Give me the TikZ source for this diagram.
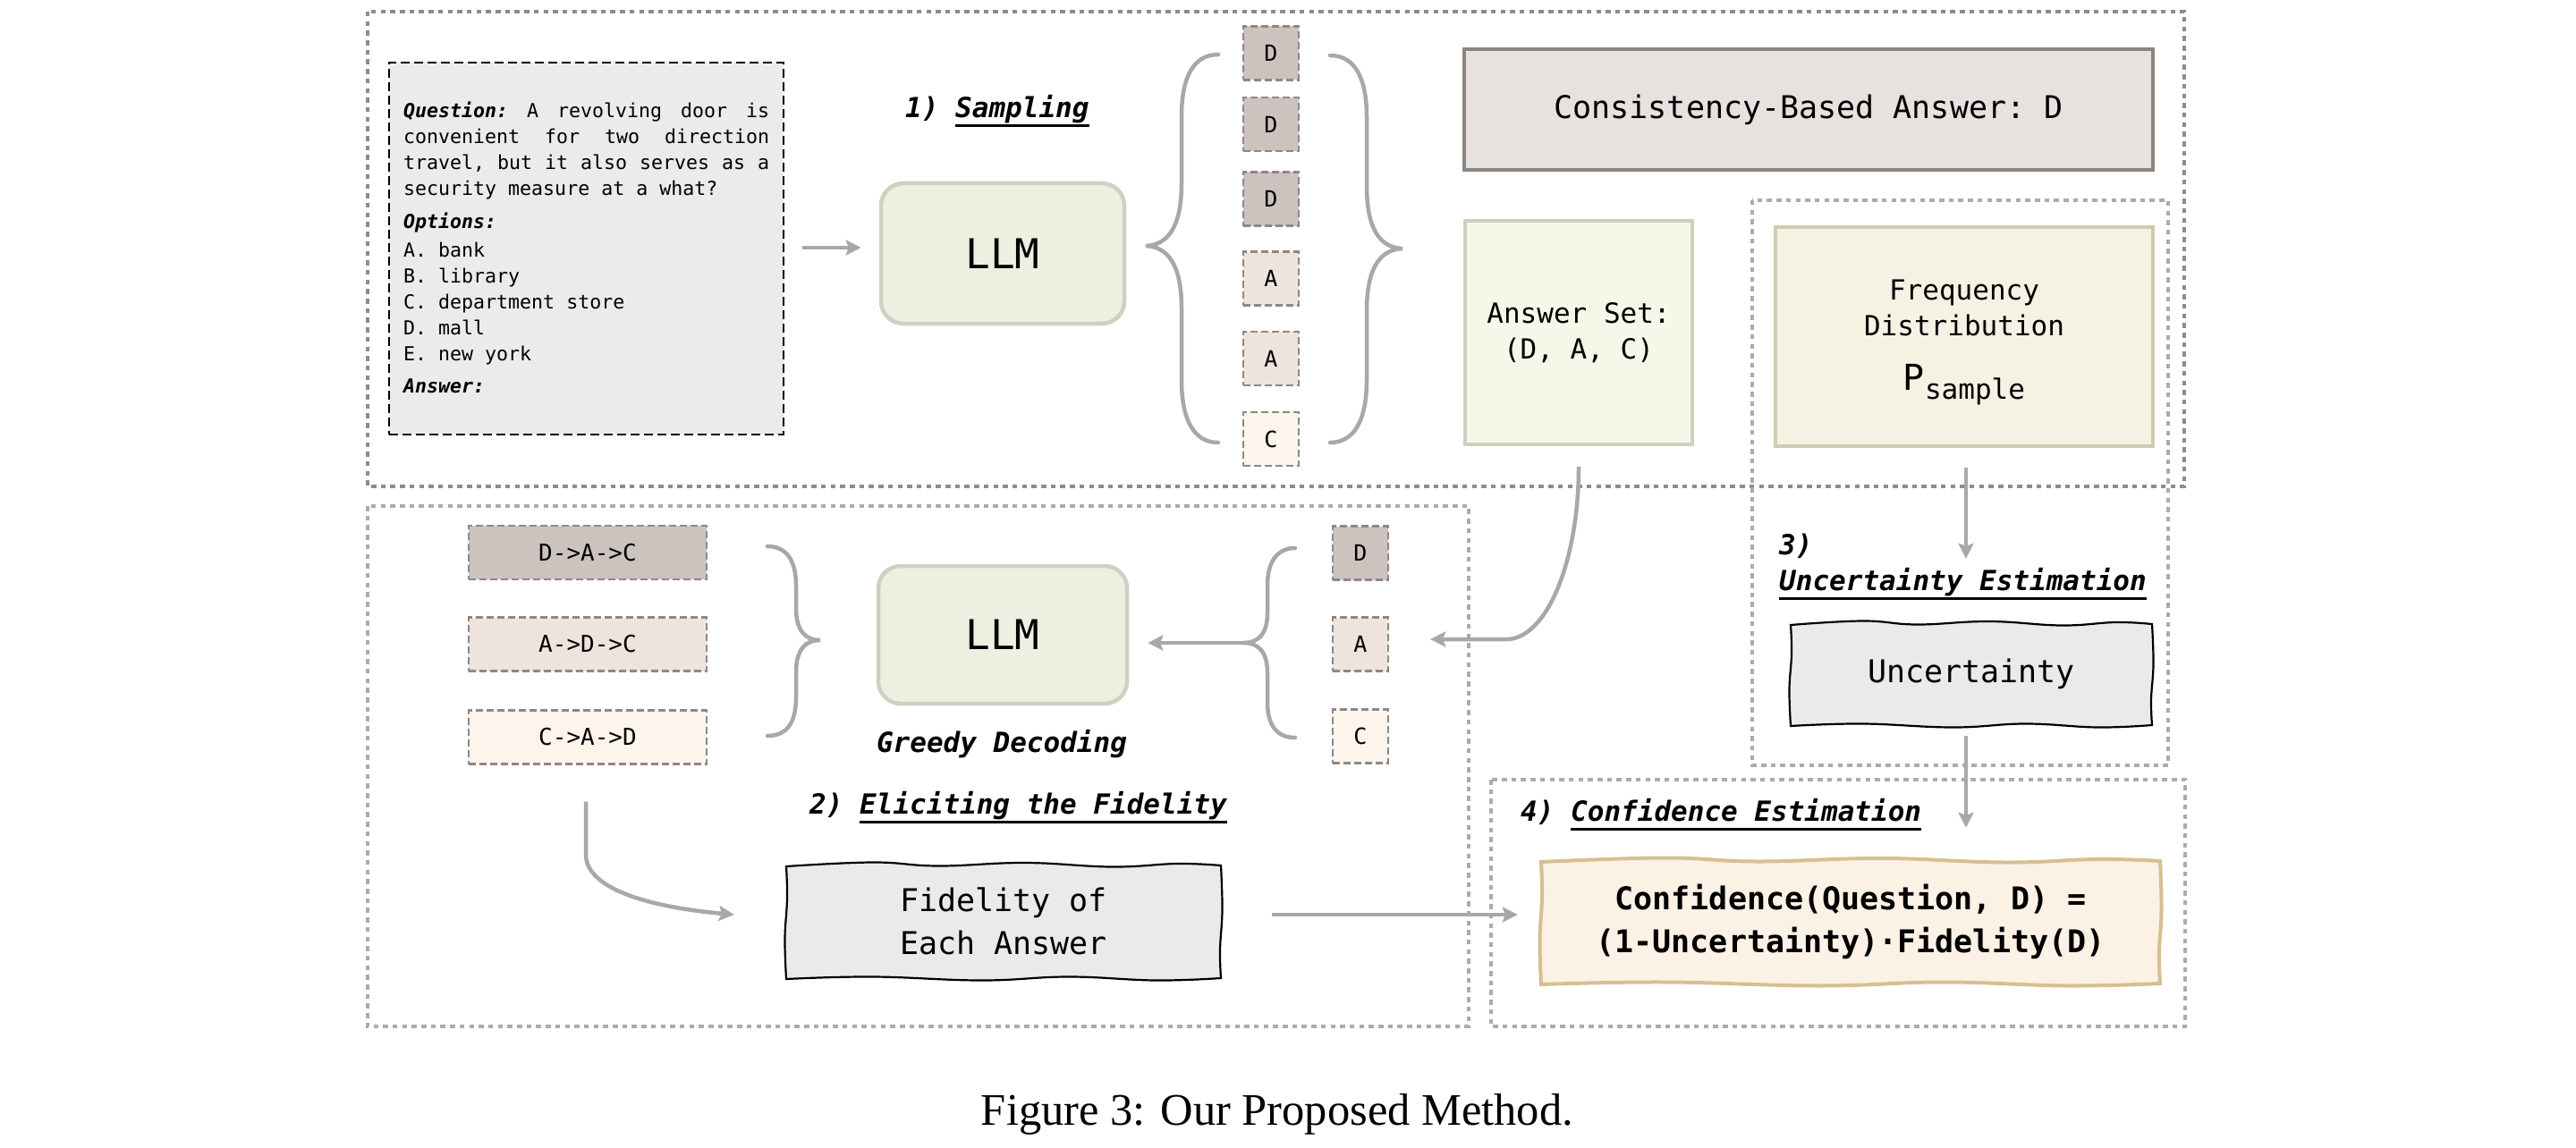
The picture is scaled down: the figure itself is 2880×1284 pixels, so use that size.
\documentclass[tikz,border=0pt]{standalone}
\usepackage{fontspec}
\setmainfont{Liberation Serif}
\setmonofont{DejaVu Sans Mono}
\usetikzlibrary{arrows.meta,calc}
\definecolor{dotA}{HTML}{8C8C8C}
\definecolor{dotB}{HTML}{ABABAB}
\definecolor{arrg}{HTML}{A8A8A8}
\definecolor{sampD}{HTML}{CCC3BF}
\definecolor{sampA}{HTML}{EEE4DD}
\definecolor{sampC}{HTML}{FDF4EC}
\definecolor{sampbd}{HTML}{8E8884}
\definecolor{qfill}{HTML}{EBEBEB}
\definecolor{llmfill}{HTML}{EEEEE1}
\definecolor{llmbd}{HTML}{D0D0C2}
\definecolor{consfill}{HTML}{E7E2DF}
\definecolor{consbd}{HTML}{8A8580}
\definecolor{ansfill}{HTML}{F7F7E9}
\definecolor{ansbd}{HTML}{CFCFC0}
\definecolor{freqfill}{HTML}{F5F1E3}
\definecolor{freqbd}{HTML}{D2CAB0}
\definecolor{conffill}{HTML}{FBF1E4}
\definecolor{confbd}{HTML}{D6BF92}
\definecolor{sketchfill}{HTML}{EAEAEA}
\newcommand\fs[2]{\fontsize{#1}{#2}\selectfont}
\newcommand\ulx[1]{\setbox0\hbox{#1}\rlap{\rule[-10.5pt]{\wd0}{2.6pt}}\box0}
\newcommand\bi[1]{{\bfseries\itshape #1}}
\newcommand\wavy[5][]{%
 \filldraw[#1] plot[smooth,tension=0.7] coordinates {(#2,{#3+2}) ({#2+0.2*(#4-#2)},{#3-2.5}) ({#2+0.35*(#4-#2)},{#3+1.5}) ({#2+0.55*(#4-#2)},{#3-2}) ({#2+0.75*(#4-#2)},{#3+2.5}) ({#2+0.9*(#4-#2)},{#3-1}) (#4,{#3+1})}
 -- plot[smooth,tension=0.7] coordinates {(#4,{#3+1}) ({#4+1.5},{#3+0.4*(#5-#3)}) ({#4-1},{#3+0.75*(#5-#3)}) (#4,#5)}
 -- plot[smooth,tension=0.7] coordinates {(#4,#5) ({#4-0.15*(#4-#2)},{#5+2.5}) ({#4-0.35*(#4-#2)},{#5-1.5}) ({#4-0.55*(#4-#2)},{#5+2.5}) ({#4-0.8*(#4-#2)},{#5-1.5}) (#2,{#5+1})}
 -- plot[smooth,tension=0.7] coordinates {(#2,{#5+1}) ({#2-1.5},{#5-0.35*(#5-#3)}) ({#2+1},{#5-0.7*(#5-#3)}) (#2,{#3+2})}
 -- cycle;}
\tikzset{
 dotbox/.style={line width=4.5pt, dash pattern=on 5.5pt off 5.2pt},
 arr/.style={draw=arrg, line width=4.5pt, -{Stealth[length=17pt,width=17pt,inset=3pt]}},
 bracestyle/.style={draw=arrg, line width=4.5pt, line cap=round},
 samp/.style={draw=sampbd, line width=2.2pt, dash pattern=on 8pt off 4pt, minimum width=62pt, minimum height=60pt, inner sep=0pt, font=\ttfamily\fs{25}{30}},
 permbox/.style={samp, minimum width=266pt, font=\ttfamily\fs{26}{30}},
 llm/.style={draw=llmbd, fill=llmfill, line width=4.5pt, rounded corners=25pt, inner sep=0pt, font=\ttfamily\fs{46}{50}},
 ttl/.style={inner sep=0pt, font=\ttfamily\bfseries\itshape\fs{31}{36}},
 plainbox/.style={line width=4pt, inner sep=0pt, align=center},
 sketch/.style={inner sep=0pt, align=center, font=\ttfamily\fs{35}{48}},
}
\begin{document}
\begin{tikzpicture}[x=1pt,y=-1pt]
\useasboundingbox (0,0) rectangle (2880,1284);
% group frames
\draw[dotbox, draw=dotA] (411,13) rectangle (2442,544);
\draw[dotbox, draw=dotB] (411,566) rectangle (1642,1148);
\draw[dotbox, draw=dotB] (1959,224) rectangle (2424,856);
\draw[dotbox, draw=dotB] (1667,872) rectangle (2443,1148);

% question
\node[draw=black, fill=qfill, line width=2.4pt, dash pattern=on 10pt off 5pt, minimum width=441pt, minimum height=416pt, inner sep=0pt] (q) at (655.5,278) {};
\node[anchor=north west, inner sep=0pt, font=\ttfamily\fs{21.6}{29}] (qtxt) at (451,113.6) {\vbox{\hsize=409pt
\hbox to 409pt{\bi{Question:} \hfill A \hfill revolving \hfill door \hfill is}
\hbox to 409pt{convenient \hfill for \hfill two \hfill direction}
\hbox to 409pt{travel, \hfill but \hfill it \hfill also \hfill serves \hfill as \hfill a}
\hbox{security measure at a what?}
\vskip 8pt
\hbox{\bi{Options:}}
\vskip 3pt
\hbox{A. bank}
\hbox{B. library}
\hbox{C. department store}
\hbox{D. mall}
\hbox{E. new york}
\vskip 7pt
\hbox{\bi{Answer:}}}};

% sampling
\node[llm, minimum width=272pt, minimum height=157pt] (llm1) at (1121,283.5) {LLM};
\node[ttl, anchor=base west] (l1) at (1012,131.4) {1) \ulx{Sampling}};
\node[samp, fill=sampD] (s1) at (1421,59.5) {D};
\node[samp, fill=sampD] (s2) at (1421,139) {D};
\node[samp, fill=sampD] (s3) at (1421,222.5) {D};
\node[samp, fill=sampA] (s4) at (1421,311.5) {A};
\node[samp, fill=sampA] (s5) at (1421,401) {A};
\node[samp, fill=sampC] (s6) at (1421,491) {C};
\draw[bracestyle] (1362,61) .. controls (1335,61) and (1321,85) .. (1321,130) -- (1321,205) .. controls (1321,255) and (1305,274) .. (1281,275) .. controls (1305,276) and (1321,295) .. (1321,345) -- (1321,425) .. controls (1321,470) and (1335,495) .. (1362,495);
\draw[bracestyle] (1487,62) .. controls (1514,62) and (1528,86) .. (1528,131) -- (1528,208) .. controls (1528,258) and (1544,277) .. (1568,278) .. controls (1544,279) and (1528,298) .. (1528,348) -- (1528,425) .. controls (1528,470) and (1514,495) .. (1487,495);

\node[plainbox, draw=consbd, fill=consfill, minimum width=770pt, minimum height=135pt, font=\ttfamily\fs{35}{40}] (cons) at (2022,122.5) {Consistency-Based Answer: D};
\node[plainbox, draw=ansbd, fill=ansfill, minimum width=254pt, minimum height=250pt, font=\ttfamily\fs{31}{40}] (ans) at (1765,372) {Answer Set:\\(D, A, C)};
\node[plainbox, draw=freqbd, fill=freqfill, minimum width=422pt, minimum height=245pt, font=\ttfamily\fs{31}{40}] (freq) at (2196,376.5) {\rule{0pt}{35.6pt}Frequency\\Distribution\\[20.6pt]{\fs{40}{40}P}\raisebox{-10pt}{sample}};

% eliciting
\node[permbox, fill=sampD] (p1) at (657,618) {D->A->C};
\node[permbox, fill=sampA] (p2) at (657,720.5) {A->D->C};
\node[permbox, fill=sampC] (p3) at (657,824.5) {C->A->D};
\draw[bracestyle] (858,611) .. controls (880,611) and (890,628) .. (890,655) -- (890,680) .. controls (890,705) and (900,716) .. (917,716) .. controls (900,716) and (890,727) .. (890,752) -- (890,780) .. controls (890,808) and (880,823) .. (858,823);
\node[llm, minimum width=278pt, minimum height=154pt] (llm2) at (1121,710) {LLM};
\node[ttl, anchor=base] (lgd) at (1120,841) {Greedy Decoding};
\coordinate (btip) at (1390,719);
\draw[bracestyle] (1448,613) .. controls (1428,613) and (1417,628) .. (1417,655) -- (1417,685) .. controls (1417,708) and (1408,719) .. (btip) .. controls (1408,719) and (1417,730) .. (1417,753) -- (1417,785) .. controls (1417,812) and (1428,825) .. (1448,825);
\node[samp, fill=sampD] (b1) at (1521,618.5) {D};
\node[samp, fill=sampA] (b2) at (1521,720.5) {A};
\node[samp, fill=sampC] (b3) at (1521,823.5) {C};
\node[ttl, anchor=base west] (l2) at (905,910.5) {2) \ulx{Eliciting the Fidelity}};
\wavy[fill=sketchfill, draw=black, line width=2.2pt]{879}{967}{1365}{1094}
\node[sketch, minimum width=486pt, minimum height=127pt] (fid) at (1122,1030.5) {Fidelity of\\Each Answer};

% uncertainty
\node[ttl, anchor=base west] (l3) at (1989,620.4) {3)};
\node[ttl, anchor=base west] (l3b) at (1989,660.4) {\ulx{Uncertainty Estimation}};
\wavy[fill=sketchfill, draw=black, line width=2.2pt]{2002}{697}{2406}{811}
\node[sketch, minimum width=404pt, minimum height=114pt] (unc) at (2204,754) {Uncertainty};

% confidence
\node[ttl, anchor=base west] (l4) at (1700,918.4) {4) \ulx{Confidence Estimation}};
\wavy[fill=conffill, draw=confbd, line width=4pt]{1723}{962}{2415}{1100}
\node[sketch, minimum width=692pt, minimum height=138pt, font=\ttfamily\bfseries\fs{35}{48}] (conf) at (2069,1031) {Confidence(Question, D) =\\(1-Uncertainty)·Fidelity(D)};

% connectors
\draw[arr] ($(q.east)+(20,-1)$) -- ($(llm1.west|-q.east)+(-20,-1)$);
\draw[arr] ($(ans.south)+(0,23)$) .. controls +(0,106) and +(45,0) .. ($(b2.east)+(131,-5.5)$) -- ($(b2.east)+(46,-5.5)$);
\draw[arr] (btip) -- ($(llm2.east|-btip)+(21,0)$);
\draw[arr] ($(p3.south)+(-2,41)$) -- ++(0,59) .. controls +(0,40) and +(-90,-8) .. ($(fid.west)+(-58,-7.5)$);
\draw[arr] ($(fid.east)+(57,-7.5)$) -- ($(conf.west)+(-26,-8)$);
\draw[arr] ($(freq.south)+(2,22)$) -- ($(unc.north)+(-6,-72)$);
\draw[arr] ($(unc.south)+(-6,12)$) -- ($(conf.north)+(129,-36)$);

% caption
\node[font=\rmfamily\fs{50.5}{55}, anchor=base, inner sep=0pt] (cap) at (1428,1258) {Figure 3: Our Proposed Method.};
\end{tikzpicture}
\end{document}
